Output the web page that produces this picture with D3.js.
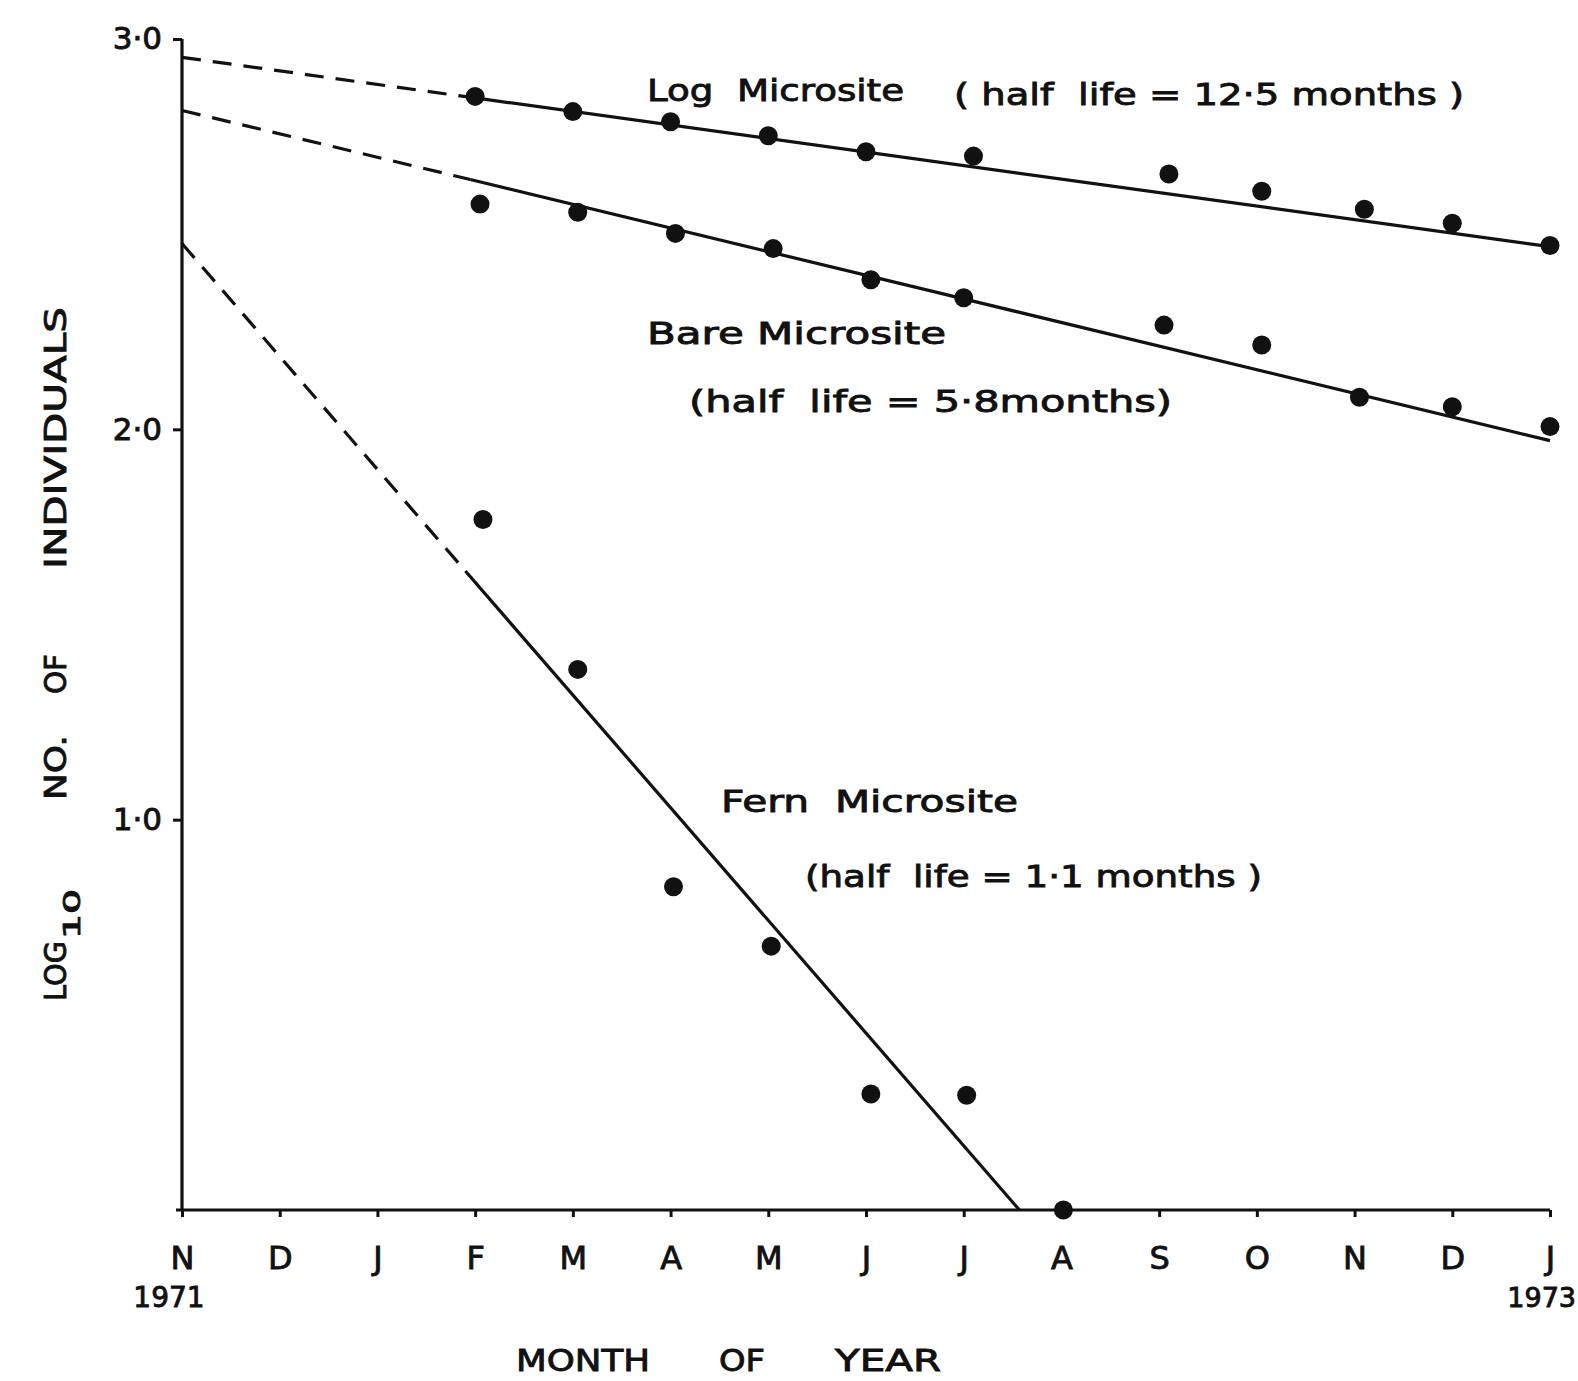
<!DOCTYPE html>
<html><head><meta charset="utf-8">
<script src="https://cdn.jsdelivr.net/npm/d3@7"></script>
<style>
html,body{margin:0;padding:0;background:#fff;overflow:hidden;}
svg{display:block;}
svg text{font-family:"DejaVu Sans",sans-serif;font-weight:normal;fill:#111;stroke:#111;stroke-width:0.9px;}
</style></head>
<body>
<svg id="chart" width="1578" height="1381"></svg>
<script>
// ---- data ----
const monthLabels = ["N","D","J","F","M","A","M","J","J","A","S","O","N","D","J"];
const yTickValues = [1, 2, 3];

const logMonths  = [3, 4, 5, 6, 7, 8.1, 10.1, 11.05, 12.1, 13, 14];
const logValues  = [2.853, 2.814, 2.788, 2.752, 2.711, 2.700, 2.654, 2.610, 2.564, 2.528, 2.471];
const bareMonths = [3.05, 4.05, 5.05, 6.05, 7.05, 8, 10.05, 11.05, 12.05, 13, 14];
const bareValues = [2.577, 2.556, 2.502, 2.463, 2.383, 2.337, 2.267, 2.216, 2.082, 2.058, 2.007];
const fernMonths = [3.08, 4.05, 5.03, 6.03, 7.05, 8.03, 9.02];
const fernValues = [1.769, 1.385, 0.828, 0.676, 0.297, 0.294, 0.0];

// fitted lines: [start, end of dashed extrapolation, end of solid line]
const logFitMonths  = [0, 3, 14];
const logFitValues  = [2.953, 2.849, 2.468];
const bareFitMonths = [0, 2.95, 14];
const bareFitValues = [2.817, 2.640, 1.971];
const fernFitMonths = [0, 2.9, 8.57];
const fernFitValues = [2.476, 1.637, 0];

// ---- drawing ----
const svg = d3.select("#chart");
svg.append("rect").attr("width",1578).attr("height",1381).attr("fill","#fff");

const x = d3.scaleLinear().domain([0, 14]).range([182, 1550]);
const y = d3.scaleLinear().domain([0, 3]).range([1210, 39]);

// x axis
const gx = svg.append("g").attr("transform", `translate(0,${y(0)})`)
  .call(d3.axisBottom(x).tickValues(d3.range(monthLabels.length))
        .tickFormat(i => monthLabels[i]).tickSize(7).tickSizeOuter(0).tickPadding(29));
gx.select(".domain").attr("stroke","#111").attr("stroke-width",3.2).attr("d", `M${x(0)-6},0H${x(14)}`);
gx.selectAll(".tick line").attr("stroke","#111").attr("stroke-width",3);
gx.selectAll(".tick text").attr("font-size",32).attr("fill","#111")
  .style("font-family","DejaVu Sans");

// y axis
const gy = svg.append("g").attr("transform", `translate(${x(0)},0)`)
  .call(d3.axisLeft(y).tickValues(yTickValues)
        .tickFormat(d => d3.format(".1f")(d).replace(".", "·")).tickSize(9).tickSizeOuter(0).tickPadding(11));
gy.select(".domain").attr("stroke","#111").attr("stroke-width",3.2).attr("d", `M0,${y(3)}V${y(0)}`);
gy.selectAll(".tick line").attr("stroke","#111").attr("stroke-width",3);
gy.selectAll(".tick text").attr("font-size",31).attr("fill","#111")
  .style("font-family","DejaVu Sans");

// fitted lines
function fit(months, values) {
  const pts = months.map((m, i) => [x(m), y(values[i])]);
  const ln = d3.line();
  svg.append("path").attr("d", ln([pts[0], pts[1]])).attr("fill","none")
    .attr("stroke","#111").attr("stroke-width",3.2).attr("stroke-dasharray","19,12");
  svg.append("path").attr("d", ln([pts[1], pts[2]])).attr("fill","none")
    .attr("stroke","#111").attr("stroke-width",3.2);
}
fit(logFitMonths, logFitValues);
fit(bareFitMonths, bareFitValues);
fit(fernFitMonths, fernFitValues);

// points
function dots(months, values) {
  svg.append("g").selectAll("circle").data(months).join("circle")
    .attr("cx", (d) => x(d)).attr("cy", (d, i) => y(values[i]))
    .attr("r", 9.5).attr("fill", "#111");
}
dots(logMonths, logValues);
dots(bareMonths, bareValues);
dots(fernMonths, fernValues);

// annotations
function label(txt, x0, x1, baseline, size) {
  svg.append("text").attr("x", x0).attr("y", baseline).attr("font-size", size)
    .attr("textLength", x1 - x0).attr("lengthAdjust", "spacingAndGlyphs")
    .attr("xml:space","preserve").text(txt);
}
label("Log  Microsite", 647, 904, 101, 31);
label("( half  life = 12·5 months )", 954, 1464, 105, 31);
label("Bare Microsite", 647, 946, 344, 31);
label("(half  life = 5·8months)", 689, 1172, 412, 31);
label("Fern  Microsite", 721, 1018, 812, 31);
label("(half  life = 1·1 months )", 805, 1262, 887, 31);

// years
svg.append("text").attr("x", 169).attr("y", 1307).attr("font-size", 28)
  .attr("text-anchor","middle").text("1971");
svg.append("text").attr("x", 1576).attr("y", 1307).attr("font-size", 27)
  .attr("text-anchor","end").text("1973");

// x title
label("MONTH", 516, 650, 1371, 31);
label("OF", 719, 765, 1371, 31);
label("YEAR", 835, 941, 1371, 31);

// y title (rotated)
function vlabel(txt, yStart, yEnd, cx, size) {
  svg.append("text").attr("transform", `translate(${cx},${yStart}) rotate(-90)`)
    .attr("font-size", size).attr("textLength", yStart - yEnd).attr("lengthAdjust","spacingAndGlyphs")
    .text(txt);
}
vlabel("LOG", 1001, 941, 66, 31);
vlabel("10", 939, 889, 80, 23);
vlabel("NO.", 800, 735, 66, 31);
vlabel("OF", 694, 654, 66, 31);
vlabel("INDIVIDUALS", 569, 307, 66, 31);
</script>
</body></html>
